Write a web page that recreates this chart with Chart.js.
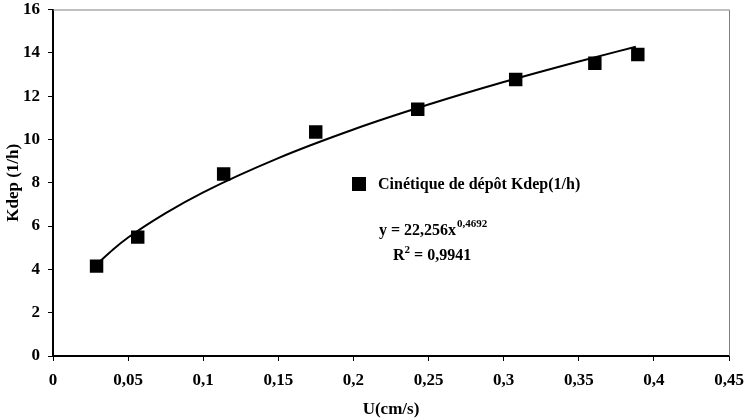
<!DOCTYPE html>
<html>
<head>
<meta charset="utf-8">
<script src="https://cdn.jsdelivr.net/npm/chart.js@4"></script>
<style>
	html, body { margin: 0; padding: 0; background: #fff; }
	#wrap { width: 744px; height: 420px; }
</style>
</head>
<body>
<div id="wrap"><canvas id="chart" width="744" height="420"></canvas></div>
<script>
// Measured points
const uValues = [0.029, 0.0564, 0.1136, 0.1749, 0.2428, 0.308, 0.3607, 0.3893]
const kdepValues = [4.15, 5.49, 8.4, 10.34, 11.39, 12.77, 13.52, 13.92]

// Trend curve
const trendU = [0.03, 0.04, 0.05, 0.075, 0.1, 0.15, 0.2, 0.25, 0.3, 0.35, 0.388]
const trendK = [4.29, 4.92, 5.47, 6.6, 7.56, 9.14, 10.46, 11.61, 12.65, 13.6, 14.28]

const seriesLabel = 'Cinétique de dépôt Kdep(1/h)'
const eqMain = 'y = 22,256x'
const eqExp = '0,4692'
const r2Text = '0,9941'

const FONT = '"Liberation Serif", "Times New Roman", serif'

// Legend box, equation and the grey top/right frame
const extras = {
	id: 'extras',
	afterDraw(chart) {
		const ctx = chart.ctx
		const a = chart.chartArea
		ctx.save()
		ctx.strokeStyle = '#808080'
		ctx.lineWidth = 1
		ctx.beginPath()
		ctx.moveTo(a.left, a.top + 0.5)
		ctx.lineTo(a.right + 0.5, a.top + 0.5)
		ctx.lineTo(a.right + 0.5, a.bottom)
		ctx.stroke()

		ctx.fillStyle = '#000'
		ctx.fillRect(352, 177, 14, 14)
		ctx.font = 'bold 16px ' + FONT
		ctx.textBaseline = 'middle'
		ctx.textAlign = 'left'
		ctx.fillText(seriesLabel, 378, 185)

		// y = ... x^exp
		ctx.fillText(eqMain, 379, 231)
		const w = ctx.measureText(eqMain).width
		ctx.font = 'bold 11px ' + FONT
		ctx.fillText(eqExp, 379 + w + 1, 224)

		// R² = ...
		ctx.font = 'bold 16px ' + FONT
		ctx.fillText('R', 393, 256)
		const wr = ctx.measureText('R').width
		ctx.font = 'bold 11px ' + FONT
		ctx.fillText('2', 393 + wr, 250)
		const w2 = ctx.measureText('2').width
		ctx.font = 'bold 16px ' + FONT
		ctx.fillText(' = ' + r2Text, 393 + wr + w2, 256)
		ctx.restore()
	},
}

const ctx = document.getElementById('chart').getContext('2d')
new Chart(ctx, {
	type: 'scatter',
	data: {
		datasets: [
			{
				label: 'Tendance',
				data: trendU.map((u, i) => ({ x: u, y: trendK[i] })),
				showLine: true,
				borderColor: '#000',
				borderWidth: 2,
				pointRadius: 0,
				cubicInterpolationMode: 'monotone',
				fill: false,
			},
			{
				label: seriesLabel,
				data: uValues.map((u, i) => ({ x: u, y: kdepValues[i] })),
				pointStyle: 'rect',
				pointRadius: 9.5,
				backgroundColor: '#000',
				borderColor: '#000',
				borderWidth: 0,
				showLine: false,
			},
		],
	},
	options: {
		responsive: false,
		animation: false,
		layout: { padding: { left: 0, right: 15, top: 8, bottom: 0 } },
		plugins: {
			legend: { display: false },
			tooltip: { enabled: false },
		},
		scales: {
			x: {
				type: 'linear',
				min: 0,
				max: 0.45,
				afterFit(s) {
					s.height = 64
					s.paddingLeft = 0
					s.paddingRight = 0
				},
				ticks: {
					stepSize: 0.05,
					color: '#000',
					padding: 9,
					maxRotation: 0,
					font: { family: FONT, size: 17, weight: 'bold' },
					callback: v => String(Math.round(v * 100) / 100).replace('.', ','),
				},
				grid: { drawOnChartArea: false, color: '#000', tickLength: 5 },
				border: { color: '#000', width: 2 },
				title: {
					display: true,
					text: 'U(cm/s)',
					color: '#000',
					padding: { top: 0, bottom: 0 },
					font: { family: FONT, size: 17, weight: 'bold' },
				},
			},
			y: {
				min: 0,
				max: 16,
				afterFit(s) {
					s.width = 53
					s.paddingTop = 0
					s.paddingBottom = 0
				},
				ticks: {
					stepSize: 2,
					color: '#000',
					padding: 8,
					font: { family: FONT, size: 17, weight: 'bold' },
				},
				grid: { drawOnChartArea: false, color: '#000', tickLength: 5 },
				border: { color: '#000', width: 2 },
				title: {
					display: true,
					text: 'Kdep (1/h)',
					color: '#000',
					padding: { top: 3, bottom: 0 },
					font: { family: FONT, size: 17, weight: 'bold' },
				},
			},
		},
	},
	plugins: [extras],
})
</script>
</body>
</html>
